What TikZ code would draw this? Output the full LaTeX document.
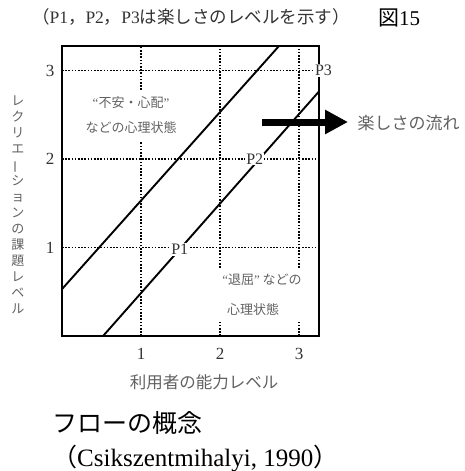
\documentclass[tikz,border=0pt]{standalone}
\usepackage{fontspec}
\setmainfont{Liberation Serif}
\newfontfamily\jp{Noto Sans CJK JP}
\usetikzlibrary{arrows.meta}
\definecolor{txtgray}{gray}{0.38}
\definecolor{darktxt}{gray}{0.2}
\tikzset{
  gridline/.style={line width=1.9pt, dash pattern=on 1.6pt off 1.6pt},
  diag/.style={line width=1.9pt},
  frame/.style={line width=2.4pt},
  plabel/.style={fill=white, inner sep=1pt, text=darktxt, font=\fontsize{16}{16}\selectfont},
  ticklab/.style={text=darktxt, font=\fontsize{17}{17}\selectfont},
  inner/.style={text=txtgray, font=\fontsize{13}{13}\selectfont\jp},
}
\begin{document}
\begin{tikzpicture}[x=1pt,y=-1pt]
\useasboundingbox (0,0) rectangle (464,471);
% title
\node[text=darktxt, font=\fontsize{17.5}{17.5}\selectfont] (title) at (191,17)
  {{\jp （}P1{\jp ，}P2{\jp ，}P3{\jp は楽しさのレベルを示す）}};
\node[font=\fontsize{21}{21}\selectfont] (fig) at (399,18) {{\jp 図}15};
% plot
\begin{scope}[shift={(62,336)}, x=79pt, y=88.5pt]
  \coordinate (O) at (0,0);
  \coordinate (TR) at (3.25,3.28);
  % grid
  \draw[gridline] (0,1) -- (3.25,1);
  \draw[gridline] (0,2) -- (3.25,2);
  \draw[gridline] (0,3) -- (3.22,3);
  \draw[gridline] (1,0) -- (1,2.19);
  \draw[gridline] (1,2.78) -- (1,3.28);
  \draw[gridline] (2,0) -- (2,0.18);
  \draw[gridline] (2,0.77) -- (2,3.28);
  \draw[gridline] (3,0) -- (3,0.18);
  \draw[gridline] (3,0.77) -- (3,3.28);
  % diagonals
  \coordinate (a1) at (0,0.53);
  \coordinate (a2) at (2.75,3.28);
  \coordinate (b1) at (0.52,0);
  \coordinate (b2) at (3.25,2.76);
  \draw[diag] (a1) -- (a2);
  \draw[diag] (b1) -- (b2);
  % labels on lines
  \node[plabel] (P1) at (1.49,0.98) {P1};
  \node[plabel] (P2) at (2.44,2.0) {P2};
  % frame
  \draw[frame] (0,3.28) -- (0,0) -- (3.25,0) -- (3.25,3.28) -- cycle;
  \node[plabel] (P3) at (3.31,3.0) {P3};
  % tick labels
  \node[ticklab] (y3) at (-0.15,3) {3};
  \node[ticklab] (y2) at (-0.15,2) {2};
  \node[ticklab] (y1) at (-0.15,1) {1};
  \node[ticklab] (x1) at (1,-0.2) {1};
  \node[ticklab] (x2) at (2,-0.2) {2};
  \node[ticklab] (x3) at (3,-0.2) {3};
\end{scope}
% inner texts
\node[inner] (t1) at (131,103) {{\rmfamily “}不安・心配{\rmfamily ”}};
\node[inner] (t2) at (131,128) {などの心理状態};
\node[inner] (t3) at (262,280) {{\rmfamily “}退屈{\rmfamily ”} などの};
\node[inner] (t4) at (253,310) {心理状態};
% arrow
\coordinate (arS) at (262,122);
\coordinate (arE) at (348,122);
\draw[line width=7pt, -{Triangle[length=23pt, width=23pt]}] (arS) -- (arE);
\node[anchor=west, text=txtgray, font=\fontsize{17}{17}\selectfont\jp] (flow) at (354,123) {楽しさの流れ};
% axis labels
\node[text=txtgray, font=\fontsize{16.5}{16.5}\selectfont\jp] (xlab) at (204,382) {利用者の能力レベル};
\node[text=txtgray, align=center, font=\fontsize{13}{16}\selectfont\jp] (ylab) at (18,205)
  {レ\\ク\\リ\\エ\\\rotatebox[origin=c]{90}{ー}\\シ\\ョ\\ン\\の\\課\\題\\レ\\ベ\\ル};
% caption
\node[anchor=base west, inner sep=0pt, font=\fontsize{25}{25}\selectfont\jp] (cap1) at (52,432) {フローの概念};
\node[anchor=base west, inner sep=0pt, font=\fontsize{25}{25}\selectfont] (cap2) at (52,466) {{\jp （}Csikszentmihalyi, 1990{\jp ）}};
\end{tikzpicture}
\end{document}
